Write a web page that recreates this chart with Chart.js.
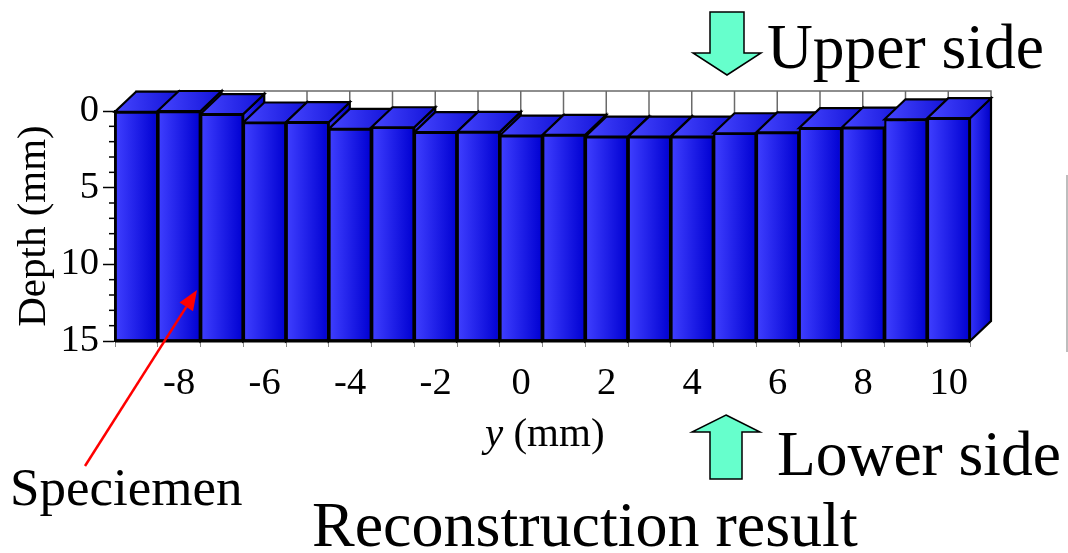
<!DOCTYPE html>
<html><head><meta charset="utf-8">
<script src="https://cdn.jsdelivr.net/npm/chart.js@4.4.1/dist/chart.umd.min.js"></script>
<style>
html,body{margin:0;padding:0;background:#fff;}
#wrap{position:relative;width:1068px;height:553px;overflow:hidden;background:#fff;}
#c{position:absolute;left:0;top:0;}
.t{position:absolute;font-family:'Liberation Serif','Times New Roman',serif;color:#000;white-space:nowrap;line-height:1.107;}
</style></head><body>
<div id="wrap">
<canvas id="c" width="1068" height="553"></canvas>
<div class="t" style="left:767px;top:12px;font-size:63.5px">Upper side</div>
<div class="t" style="left:777px;top:419px;font-size:63.5px">Lower side</div>
<div class="t" style="left:312px;top:490px;font-size:64px">Reconstruction result</div>
<div class="t" style="left:10px;top:458px;font-size:53px">Speciemen</div>
<div class="t" style="left:485px;top:410px;font-size:41px"><i>y</i> (mm)</div>
</div>
<script>
// ---- data ----
const categories = ['-9','-8','-7','-6','-5','-4','-3','-2','-1','0','1','2','3','4','5','6','7','8','9','10'];
const depthValues = [0.05, 0.0, 0.2, 0.75, 0.73, 1.17, 1.06, 1.38, 1.36, 1.6, 1.56, 1.67, 1.67, 1.67, 1.45, 1.4, 1.12, 1.08, 0.54, 0.47];
const specimenBottom = 15;
const xTickLabels = ['-8','-6','-4','-2','0','2','4','6','8','10'];
const yTickValues = [0, 5, 10, 15];

const DX = 21, DY = -20;
const SERIF = "'Liberation Serif','Times New Roman',serif";

function hGrad(ctx, x0, x1, c0, c1){
  const g = ctx.createLinearGradient(x0, 0, x1, 0);
  g.addColorStop(0, c0); g.addColorStop(1, c1); return g;
}
function poly(ctx, pts){
  ctx.beginPath(); ctx.moveTo(pts[0][0], pts[0][1]);
  for (let i = 1; i < pts.length; i++) ctx.lineTo(pts[i][0], pts[i][1]);
  ctx.closePath();
}

const bar3d = {
  id: 'bar3d',
  beforeDatasetsDraw(chart){
    const {ctx, chartArea: a, scales: {x, y}} = chart;
    const meta = chart.getDatasetMeta(0);
    const y0 = y.getPixelForValue(0), yb = y.getPixelForValue(specimenBottom);
    ctx.save();
    ctx.fillStyle = '#fff';
    ctx.fillRect(a.left + DX, y0 + DY, a.right - a.left, yb - y0);
    ctx.strokeStyle = '#6a6a6a'; ctx.lineWidth = 1.5;
    meta.data.forEach((el) => {
      const bx = el.x - el.width / 2 + DX;
      ctx.beginPath(); ctx.moveTo(bx, y0 + DY); ctx.lineTo(bx, yb + DY); ctx.stroke();
    });
    ctx.strokeRect(a.left + DX, y0 + DY, a.right - a.left, yb - y0);
    ctx.lineJoin = 'miter';
    meta.data.forEach((el, i) => {
      const l = el.x - el.width / 2, r = el.x + el.width / 2;
      const t = y.getPixelForValue(depthValues[i]);
      poly(ctx, [[r, t], [r + DX, t + DY], [r + DX, yb + DY], [r, yb]]);
      ctx.fillStyle = hGrad(ctx, r, r + DX, '#3434f8', '#0000c8');
      ctx.fill(); ctx.strokeStyle = '#000'; ctx.lineWidth = 2.2; ctx.stroke();
      poly(ctx, [[l, t], [r, t], [r + DX, t + DY], [l + DX, t + DY]]);
      ctx.fillStyle = hGrad(ctx, l, r + DX, '#4646ff', '#1212d8');
      ctx.fill(); ctx.stroke();
    });
    ctx.restore();
  },
  afterDatasetsDraw(chart){
    const {ctx, chartArea: a, scales: {y}} = chart;
    const yb = y.getPixelForValue(specimenBottom);
    ctx.save();
    ctx.strokeStyle = '#000'; ctx.lineWidth = 3;
    ctx.beginPath(); ctx.moveTo(a.left, yb); ctx.lineTo(a.right, yb); ctx.stroke();
    ctx.lineWidth = 1.5;
    for (let v = 0; v <= specimenBottom; v++) {
      if (v % 5 === 0) continue;
      const py = y.getPixelForValue(v);
      ctx.beginPath(); ctx.moveTo(a.left - 6, py); ctx.lineTo(a.left, py); ctx.stroke();
    }
    ctx.restore();
  },
  afterDraw(chart){
    const ctx = chart.ctx;
    ctx.save();
    ctx.fillStyle = '#66ffcc'; ctx.strokeStyle = '#000'; ctx.lineWidth = 1.5; ctx.lineJoin = 'miter';
    let cx = 727;
    poly(ctx, [[cx-17,12],[cx+17,12],[cx+17,53],[cx+34,53],[cx,75],[cx-34,53],[cx-17,53]]);
    ctx.fill(); ctx.stroke();
    cx = 726;
    poly(ctx, [[cx,415],[cx+34,432],[cx+16,432],[cx+16,479],[cx-16,479],[cx-16,432],[cx-34,432]]);
    ctx.fill(); ctx.stroke();
    const x1 = 85, y1 = 466, x2 = 197, y2 = 290;
    const ang = Math.atan2(y2 - y1, x2 - x1);
    const hl = 20, hw = 8;
    const bxp = x2 - hl * Math.cos(ang), byp = y2 - hl * Math.sin(ang);
    ctx.strokeStyle = '#ff0000'; ctx.fillStyle = '#ff0000'; ctx.lineWidth = 2.5;
    ctx.beginPath(); ctx.moveTo(x1, y1); ctx.lineTo(bxp, byp); ctx.stroke();
    poly(ctx, [[x2, y2], [bxp + hw * Math.sin(ang), byp - hw * Math.cos(ang)], [bxp - hw * Math.sin(ang), byp + hw * Math.cos(ang)]]);
    ctx.fill();
    ctx.strokeStyle = '#bdbdbd'; ctx.lineWidth = 2;
    ctx.beginPath(); ctx.moveTo(1067, 175); ctx.lineTo(1067, 352); ctx.stroke();
    ctx.restore();
  }
};

new Chart(document.getElementById('c'), {
  type: 'bar',
  data: {
    labels: categories,
    datasets: [{
      data: depthValues.map(d => [d, specimenBottom]),
      backgroundColor: (c) => {
        const chart = c.chart;
        if (!chart.chartArea) return '#2020ee';
        const xs = chart.scales.x;
        const w = (chart.chartArea.right - chart.chartArea.left) / categories.length;
        const cxp = xs.getPixelForValue(c.dataIndex);
        return hGrad(chart.ctx, cxp - w / 2, cxp + w / 2, '#4040ff', '#0000d2');
      },
      borderColor: '#000',
      borderWidth: 2.2,
      borderSkipped: false,
      barPercentage: 1,
      categoryPercentage: 1
    }]
  },
  options: {
    responsive: false,
    animation: false,
    devicePixelRatio: 1,
    layout: { padding: { left: 0, top: 111, right: 98, bottom: 0 } },
    plugins: { legend: { display: false }, tooltip: { enabled: false } },
    scales: {
      x: {
        type: 'category',
        offset: true,
        afterFit: (s) => { s.height = 553 - 341; },
        grid: { offset: true, drawOnChartArea: false, tickLength: 6, tickColor: '#888', tickWidth: 1 },
        border: { display: false },
        ticks: {
          autoSkip: false, maxRotation: 0, padding: 14, color: '#000',
          font: { family: SERIF, size: 38.5 },
          callback: function(v, i) { const lab = categories[i]; return xTickLabels.includes(lab) ? lab : ''; }
        }
      },
      y: {
        reverse: true, min: 0, max: specimenBottom,
        afterFit: (s) => { s.width = 115; },
        afterBuildTicks: (s) => { s.ticks = yTickValues.map(v => ({ value: v })); },
        grid: { drawOnChartArea: false, tickLength: 12, tickColor: '#000', tickWidth: 1.5 },
        border: { display: true, color: '#000', width: 2 },
        ticks: { padding: 4, color: '#000', font: { family: SERIF, size: 38.5 } },
        title: { display: true, text: 'Depth (mm)', color: '#000', font: { family: SERIF, size: 41 }, padding: { top: 10, bottom: 0 } }
      }
    }
  },
  plugins: [bar3d]
});
</script>
</body></html>
